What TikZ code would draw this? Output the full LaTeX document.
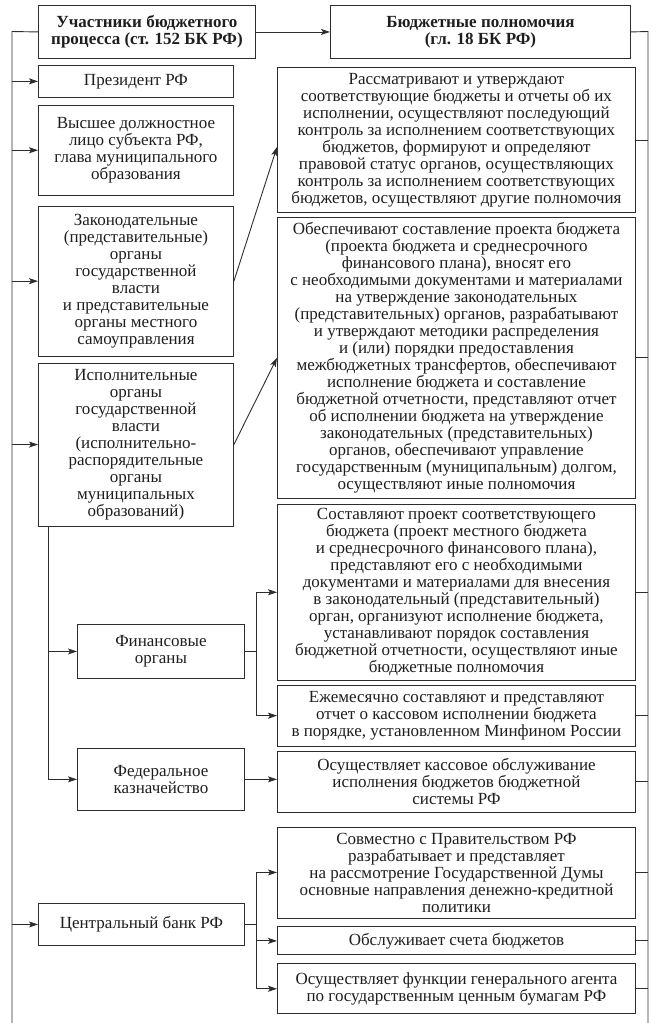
\documentclass[tikz,border=0pt]{standalone}
\usepackage{fontspec}
\setmainfont{Liberation Serif}
\usetikzlibrary{arrows.meta,positioning,calc}
\definecolor{clrLine}{RGB}{45,45,45}
\definecolor{clrText}{RGB}{30,30,30}
\tikzset{
  box/.style={rectangle,draw=clrLine,line width=0.9pt,align=center,
    text=clrText,font=\fontsize{17}{17}\selectfont,inner sep=2pt},
  headbox/.style={box,font=\fontsize{17}{17}\selectfont\bfseries,
    minimum height=53pt},
  part/.style={box,minimum width=195pt},
  subpart/.style={box,minimum width=167pt},
  power/.style={box,minimum width=358pt},
  link/.style={line width=0.9pt,draw=clrLine},
  arrow/.style={link,-{Stealth[length=9pt,width=6pt,inset=2pt]}}
}
\begin{document}
\begin{tikzpicture}[x=1pt,y=-1pt]
  \useasboundingbox (0,0) rectangle (659,1023);

  % headers
  \node[headbox,minimum width=217pt,anchor=north west] (partsHead) at (38,5)
    {Участники бюджетного\\процесса (ст. 152 БК РФ)};
  \node[headbox,minimum width=300pt,anchor=north west] (powersHead) at (330,5)
    {Бюджетные полномочия\\(гл. 18 БК РФ)};

  % participants
  \node[part,minimum height=32pt,below=6pt of partsHead.south west,anchor=north west]
    (president) {Президент РФ};
  \node[part,minimum height=90pt,below=7pt of president.south west,anchor=north west]
    (governor)
    {Высшее должностное\\лицо субъекта РФ,\\глава муниципального\\образования};
  \node[part,minimum height=150pt,below=10pt of governor.south west,anchor=north west]
    (legislature)
    {Законодательные\\(представительные)\\органы\\государственной\\власти\\
     и представительные\\органы местного\\самоуправления};
  \node[part,minimum height=163pt,below=6pt of legislature.south west,anchor=north west]
    (executive)
    {Исполнительные\\органы\\государственной\\власти\\(исполнительно-\\
     распорядительные\\органы\\муниципальных\\образований)};
  \node[subpart,minimum height=54pt,anchor=north west] (finance) at (77,624)
    {Финансовые\\органы};
  \node[subpart,minimum height=62pt,below=69pt of finance.south west,anchor=north west]
    (treasury) {Федеральное\\казначейство};
  \node[part,minimum width=206pt,minimum height=42pt,anchor=north west]
    (centralBank) at (38,903) {Центральный банк РФ};

  % powers
  \node[power,minimum height=145pt,anchor=north west] (approve) at (277,67)
    {Рассматривают и утверждают\\соответствующие бюджеты и отчеты об их\\
     исполнении, осуществляют последующий\\контроль за исполнением соответствующих\\
     бюджетов, формируют и определяют\\правовой статус органов, осуществляющих\\
     контроль за исполнением соответствующих\\бюджетов, осуществляют другие полномочия};
  \node[power,minimum height=281pt,below=4pt of approve.south west,anchor=north west]
    (budgetDraft)
    {Обеспечивают составление проекта бюджета\\(проекта бюджета и среднесрочного\\
     финансового плана), вносят его\\с необходимыми документами и материалами\\
     на утверждение законодательных\\(представительных) органов, разрабатывают\\
     и утверждают методики распределения\\и (или) порядки предоставления\\
     межбюджетных трансфертов, обеспечивают\\исполнение бюджета и составление\\
     бюджетной отчетности, представляют отчет\\об исполнении бюджета на утверждение\\
     законодательных (представительных)\\органов, обеспечивают управление\\
     государственным (муниципальным) долгом,\\осуществляют иные полномочия};
  \node[power,minimum height=176pt,below=5pt of budgetDraft.south west,anchor=north west]
    (finDraft)
    {Составляют проект соответствующего\\бюджета (проект местного бюджета\\
     и среднесрочного финансового плана),\\представляют его с необходимыми\\
     документами и материалами для внесения\\в законодательный (представительный)\\
     орган, организуют исполнение бюджета,\\устанавливают порядок составления\\
     бюджетной отчетности, осуществляют иные\\бюджетные полномочия};
  \node[power,minimum height=61pt,below=4pt of finDraft.south west,anchor=north west]
    (cashReport)
    {Ежемесячно составляют и представляют\\отчет о кассовом исполнении бюджета\\
     в порядке, установленном Минфином России};
  \node[power,minimum height=61pt,below=4pt of cashReport.south west,anchor=north west]
    (cashService)
    {Осуществляет кассовое обслуживание\\исполнения бюджетов бюджетной\\системы РФ};
  \node[power,minimum height=91pt,below=14pt of cashService.south west,anchor=north west]
    (monetary)
    {Совместно с Правительством РФ\\разрабатывает и представляет\\
     на рассмотрение Государственной Думы\\основные направления денежно-кредитной\\
     политики};
  \node[power,minimum height=28pt,below=8pt of monetary.south west,anchor=north west]
    (accounts) {Обслуживает счета бюджетов};
  \node[power,minimum height=50pt,below=8pt of accounts.south west,anchor=north west]
    (agent)
    {Осуществляет функции генерального агента\\по государственным ценным бумагам РФ};

  % buses
  \coordinate (leftTop) at (12,31.5);
  \coordinate (leftEnd) at (12,1023);
  \coordinate (rightTop) at (648,31.5);
  \coordinate (rightEnd) at (648,1023);

  \draw[link] (partsHead.west) -- (leftTop) -- (leftEnd);
  \draw[arrow] (partsHead.east) -- (powersHead.west);
  \draw[link] (powersHead.east) -- (rightTop) -- (rightEnd);
  \foreach \n in {president,governor,legislature,executive,centralBank}
    \draw[arrow] (leftTop |- \n.west) -- (\n.west);
  \foreach \n in {approve,budgetDraft,finDraft,cashReport,cashService,monetary,accounts,agent}
    \draw[link] (\n.east) -- (rightTop |- \n.east);

  \draw[arrow] (legislature.east) -- ([yshift=-7pt]approve.west);
  \draw[arrow] (executive.east) -- (budgetDraft.west);

  \coordinate (execBus) at ([xshift=10pt]executive.south west);
  \draw[arrow] (execBus) |- (treasury.west);
  \draw[arrow] (execBus |- finance.west) -- (finance.west);

  \coordinate (finFork) at ($(finance.east)+(12,0)$);
  \draw[link] (finance.east) -- (finFork);
  \draw[arrow] (finFork) |- (finDraft.west);
  \draw[arrow] (finFork) |- (cashReport.west);
  \draw[arrow] (treasury.east) -- (treasury.east -| cashService.west);

  \coordinate (bankFork) at ($(centralBank.east)+(12,0)$);
  \draw[link] (centralBank.east) -- (bankFork);
  \foreach \n in {monetary,accounts,agent}
    \draw[arrow] (bankFork) |- (\n.west);
\end{tikzpicture}
\end{document}
